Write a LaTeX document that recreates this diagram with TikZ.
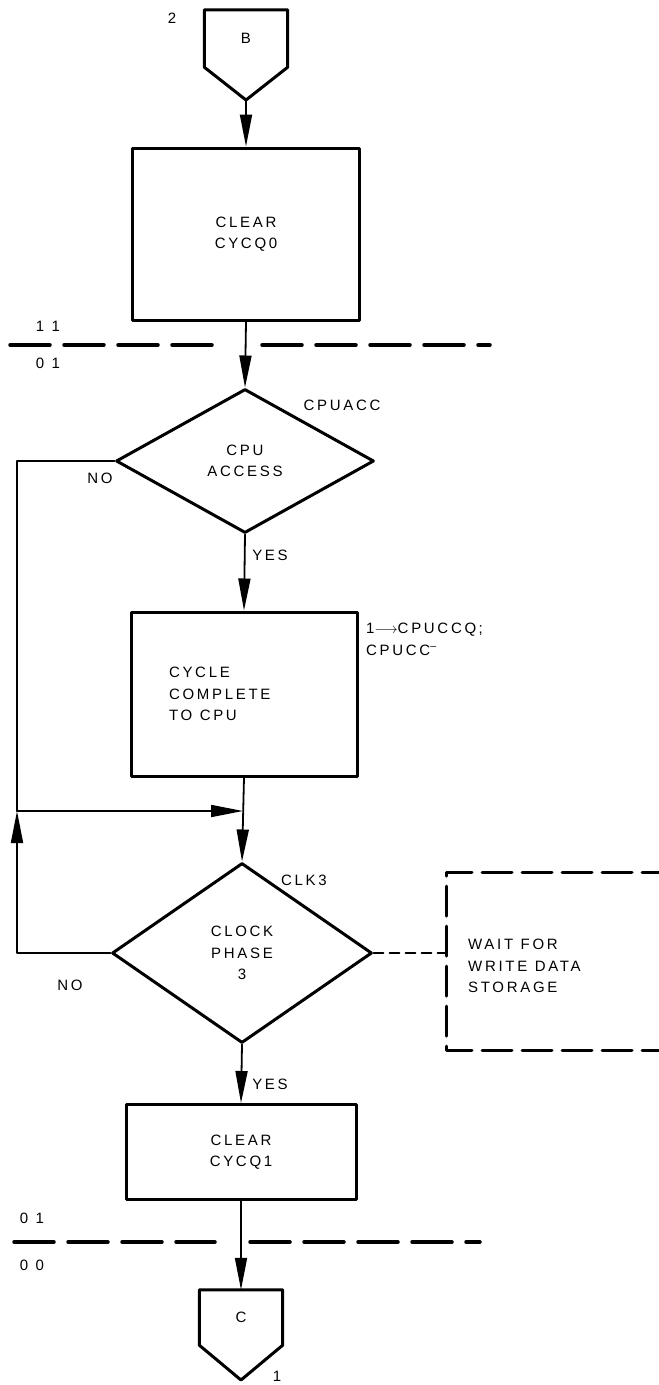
\documentclass[tikz,border=0pt]{standalone}
\usepackage{fontspec}
\setsansfont{Liberation Sans}[LetterSpace=18]
\usetikzlibrary{arrows.meta,shapes.geometric}
\newcommand{\wsp}{\hspace{0.5em}}

\begin{document}
\begin{tikzpicture}[x=1pt, y=-1pt, line cap=round, line join=round,
  every node/.style={font=\sffamily\fontsize{15}{21.5}\selectfont},
  >={Triangle[length=32pt,width=12pt]},
  flow/.style={line width=1.8pt},
  proc/.style={draw, line width=3pt, rectangle, inner sep=0pt, align=center},
  decis/.style={draw, line width=3pt, diamond, inner sep=0pt, align=center},
  divline/.style={line width=3.5pt, dash pattern=on 40pt off 14pt},
  waitline/.style={line width=3pt, dash pattern=on 30pt off 10pt},
  tag/.style={inner sep=0pt}]

  %% ════ 页连接符 B ════
  \node[tag, minimum width=83pt, minimum height=57pt] (offB) at (246,38.5) {B};
  \coordinate (offBtip) at (246,100);
  \draw[line width=3pt] (offB.south west) -- (offB.north west) -- (offB.north east)
    -- (offB.south east) -- (offBtip) -- cycle;
  \node[tag] (pgB) at (172,18) {2};

  %% ════ 方框 / 判断框 ════
  \node[proc, minimum width=227pt, minimum height=172pt] (clr0) at (246,234) {CLEAR\\CYCQ0};
  \node[decis, minimum width=258pt, minimum height=144pt] (cpuacc) at (245,461) {CPU\\ACCESS};
  \node[proc, minimum width=226pt, minimum height=164pt, text width=150pt,
        inner xsep=38pt, align=left] (cyc) at (244,694) {CYCLE\\COMPLETE\\TO\wsp CPU};
  \node[decis, minimum width=260pt, minimum height=180pt] (clk) at (242,953) {CLOCK\\PHASE\\3};
  \node[proc, minimum width=230pt, minimum height=95pt] (clr1) at (241,1152) {CLEAR\\CYCQ1};

  %% ════ 标签 ════
  \node[tag] (lblacc) at (342,405) {CPUACC};
  \node[tag] (no1) at (100,478) {NO};
  \node[tag] (yes1) at (270,555) {YES};
  \node[tag, anchor=north west, align=left] (acts) at (366,623)
    {1$\longrightarrow$CPUCCQ\,;\\CPUCC\textsuperscript{--}};
  \node[tag] (lblclk) at (304,880) {CLK3};
  \node[tag] (no2) at (70,985) {NO};
  \node[tag] (yes2) at (270,1084) {YES};

  %% ════ 等待框（右边出界）════
  \node[tag, anchor=west, align=left] (waitT) at (468,966) {WAIT\wsp FOR\\WRITE\wsp DATA\\STORAGE};
  \coordinate (waitL) at (446,958);
  \draw[waitline] (672,872) -| (446,1050) -- (672,1050);
  \draw[line width=1.8pt, dash pattern=on 10pt off 6pt] (clk.east) -- (clk.east -| waitL);

  %% ════ 分隔虚线 ════
  \draw[divline] (10,345) -- (215,345);
  \draw[divline] (262,345) -- (490,345);
  \node[tag] (st11) at (48,326) {1\wsp 1};
  \node[tag] (st01a) at (48,363) {0\wsp 1};
  \draw[divline] (14,1242) -- (215,1242);
  \draw[divline] (250,1242) -- (480,1242);
  \node[tag] (st01b) at (32,1218) {0\wsp 1};
  \node[tag] (st00) at (32,1265) {0\wsp 0};

  %% ════ 页连接符 C ════
  \node[tag, minimum width=83pt, minimum height=55pt] (offC) at (241,1317.5) {C};
  \coordinate (offCtip) at (241,1380);
  \draw[line width=3pt] (offC.south west) -- (offC.north west) -- (offC.north east)
    -- (offC.south east) -- (offCtip) -- cycle;
  \node[tag] (pgC) at (277,1376) {1};

  %% ════ 连线 ════
  \coordinate (loopL) at (17,811);
  \coordinate (merge) at (243,811);
  \draw[flow,->] (offBtip) -- (clr0.north);
  \draw[flow,->] (clr0.south) -- (cpuacc.north);
  \draw[flow,->] (cpuacc.south) -- (cyc.north);
  \draw[flow,->] (cyc.south) -- (clk.north);
  \draw[flow] (cpuacc.west) -| (loopL);
  \draw[flow,->] (clk.west) -| (loopL);
  \draw[flow,->] (loopL) -- (merge);
  \draw[flow,->] (clk.south) -- (clr1.north);
  \draw[flow,->] (clr1.south) -- (offC.north);

  % 钉死画布
  \pgfresetboundingbox
  \path[use as bounding box] (0,0) rectangle (659,1385);
\end{tikzpicture}
\end{document}
